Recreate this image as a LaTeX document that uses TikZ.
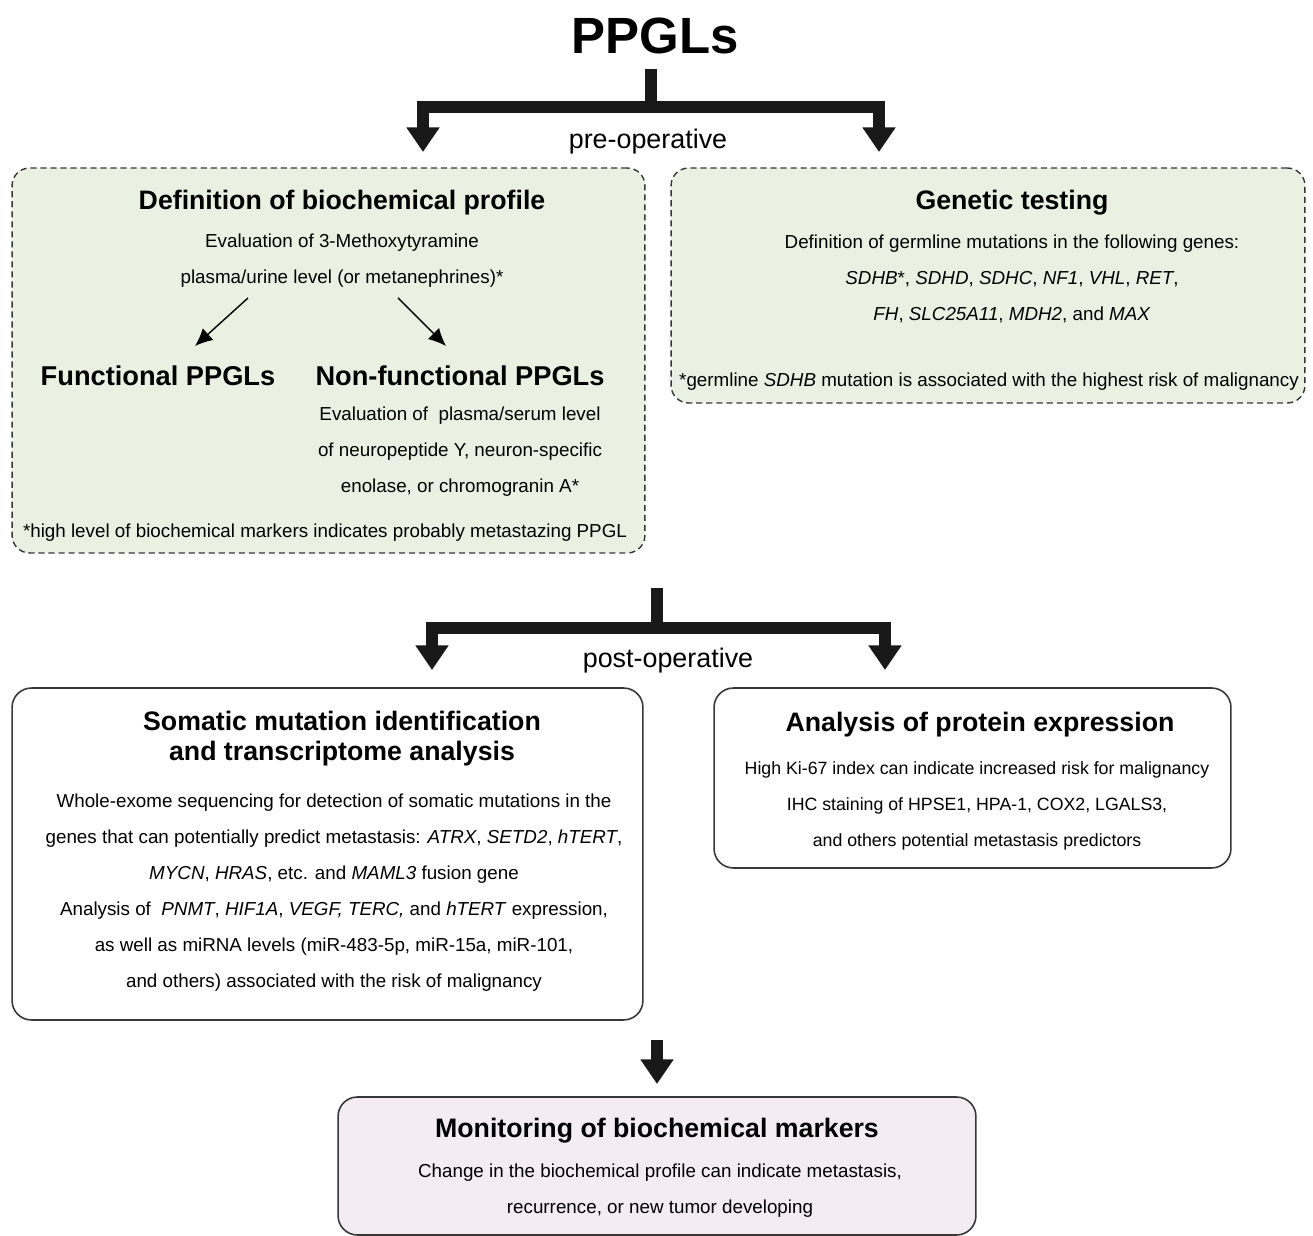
\documentclass[tikz,border=0pt]{standalone}
\usepackage{fontspec}
\setmainfont{Liberation Sans}
\usepackage{tikz}
\usetikzlibrary{arrows.meta,positioning,calc}
\definecolor{boxgreen}{RGB}{234,241,226}
\definecolor{boxpink}{RGB}{243,236,241}
\definecolor{edgegray}{RGB}{55,55,55}

\begin{document}
\begin{tikzpicture}[x=0.02cm,y=-0.02cm,
			stem/.style={line width=7pt,draw=black!90},
			fork/.style={line width=7pt,draw=black!90,line join=miter,
				{Triangle[length=14pt,width=18pt]}-{Triangle[length=14pt,width=18pt]}},
			down/.style={line width=7pt,draw=black!90,-{Triangle[length=14pt,width=18pt]}},
			thinarrow/.style={line width=0.8pt,-{Latex[length=10pt,width=9pt]}}]
			\tikzstyle{greenbox}=[draw=edgegray,line width=0.8pt,dash pattern=on 3.5pt off 2.2pt,
				fill=boxgreen,rounded corners=10pt,inner sep=0pt]
			\tikzstyle{whitebox}=[draw=edgegray,line width=0.9pt,fill=white,rounded corners=11pt,inner sep=0pt]
			\tikzstyle{pinkbox}=[draw=edgegray,line width=0.9pt,fill=boxpink,rounded corners=11pt,inner sep=0pt]
			\tikzstyle{head}=[font=\bfseries\fontsize{15.2}{17}\selectfont,align=center,inner sep=0pt]
			\tikzstyle{subhead}=[font=\bfseries\fontsize{15.5}{17}\selectfont,inner sep=0pt]
			\tikzstyle{body}=[font=\fontsize{10.7}{20.5}\selectfont,align=center,inner sep=0pt]
			\tikzstyle{phase}=[font=\fontsize{15.3}{17}\selectfont,inner sep=0pt]
			
			\useasboundingbox (0,0) rectangle (1313,1236);
			
			% boxes
			\node[greenbox, minimum width=12.66cm, minimum height=7.7cm] (B1) at (328.5,360.5) {};
			\node[greenbox, minimum width=12.68cm, minimum height=4.7cm] (B2) at (988,285.5) {};
			\node[whitebox, minimum width=12.62cm, minimum height=6.64cm] (B3) at (327.5,854) {};
			\node[whitebox, minimum width=10.34cm, minimum height=3.6cm] (B4) at (972.5,778) {};
			\node[pinkbox, minimum width=12.76cm, minimum height=2.76cm] (B5) at (657,1166) {};
			
			% title and phases
			\node[font=\bfseries\fontsize{29}{31}\selectfont,inner sep=0pt] (T) at (655,36) {PPGLs};
			\node[phase] (pre) at (648,142) {pre-operative};
			\node[phase] (post) at (668,661) {post-operative};
			
			% biochemical profile
			\node[head] (B1h) at (342,203) {Definition of biochemical profile};
			\node[body] (B1t) at (342,261) {Evaluation of 3-Methoxytyramine\\plasma/urine level (or metanephrines)*};
			\node[subhead] (F) at (158,376) {Functional PPGLs};
			\node[subhead] (NF) at (460,376) {Non-functional PPGLs};
			\node[body] (NFt) at (460,452) {Evaluation of~ plasma/serum level\\of neuropeptide Y, neuron-specific\\enolase, or chromogranin A*};
			\node[body] (B1n) at (325,533) {*high level of biochemical markers indicates probably metastazing PPGL};
			
			% genetic testing
			\node[head] (B2h) at (1012,203) {Genetic testing};
			\node[body] (B2t) at (1012,279) {Definition of germline mutations in the following genes:\\
				\textit{SDHB}*, \textit{SDHD}, \textit{SDHC}, \textit{NF1}, \textit{VHL}, \textit{RET},\\
				\textit{FH}, \textit{SLC25A11}, \textit{MDH2}, and \textit{MAX}};
			\node[body] (B2n) at (989,382) {*germline \textit{SDHB} mutation is associated with the highest risk of malignancy};
			
			% somatic mutations
			\node[head] (B3h) at (342,739) {Somatic mutation identification\\and transcriptome analysis};
			\node[body] (B3t) at (334,893) {Whole-exome sequencing for detection of somatic mutations in the\\
				genes that can potentially predict metastasis: \textit{ATRX}, \textit{SETD2}, \textit{hTERT},\\
				\textit{MYCN}, \textit{HRAS}, etc. and \textit{MAML3} fusion gene\\
				Analysis of~ \textit{PNMT}, \textit{HIF1A}, \textit{VEGF, TERC,} and \textit{hTERT} expression,\\
				as well as miRNA levels (miR-483-5p, miR-15a, miR-101,\\
				and others) associated with the risk of malignancy};
			
			% protein expression
			\node[head] (B4h) at (980,725) {Analysis of protein expression};
			\node[body,font=\fontsize{10.1}{20.5}\selectfont] (B4t) at (977,806) {High Ki-67 index can indicate increased risk for malignancy\\
				IHC staining of HPSE1, HPA-1, COX2, LGALS3,\\
				and others potential metastasis predictors};
			
			% monitoring
			\node[head] (B5h) at (657,1131) {Monitoring of biochemical markers};
			\node[body] (B5t) at (660,1191) {Change in the biochemical profile can indicate metastasis,\\
				recurrence, or new tumor developing};
			
			% fork coordinates
			\coordinate (s1) at (651,69);
			\coordinate (f1) at (651,107);
			\coordinate (f1l) at (423,107);
			\coordinate (f1r) at (879,107);
			\coordinate (t1l) at (423,152);
			\coordinate (t1r) at (879,152);
			\coordinate (s2) at (657,588);
			\coordinate (f2) at (657,628);
			\coordinate (f2l) at (432,628);
			\coordinate (f2r) at (885,628);
			\coordinate (t2l) at (432,670);
			\coordinate (t2r) at (885,670);
			\coordinate (s3) at (657,1040);
			\coordinate (t3) at (657,1084);
			\coordinate (a1) at (248,298);
			\coordinate (a1e) at (195,346);
			\coordinate (a2) at (398,298);
			\coordinate (a2e) at (446,346);
			
			\path
			
			(s1) edge[stem] (f1)
			
			(s2) edge[stem] (f2);
			
			\draw[fork] (t1l) -- (f1l) -- (f1r) -- (t1r);
			\draw[fork] (t2l) -- (f2l) -- (f2r) -- (t2r);
			\draw[down] (s3) -- (t3);
			
			\draw[thinarrow] (a1) -- (a1e);
			\draw[thinarrow] (a2) -- (a2e);
			\end{tikzpicture}
\end{document}
